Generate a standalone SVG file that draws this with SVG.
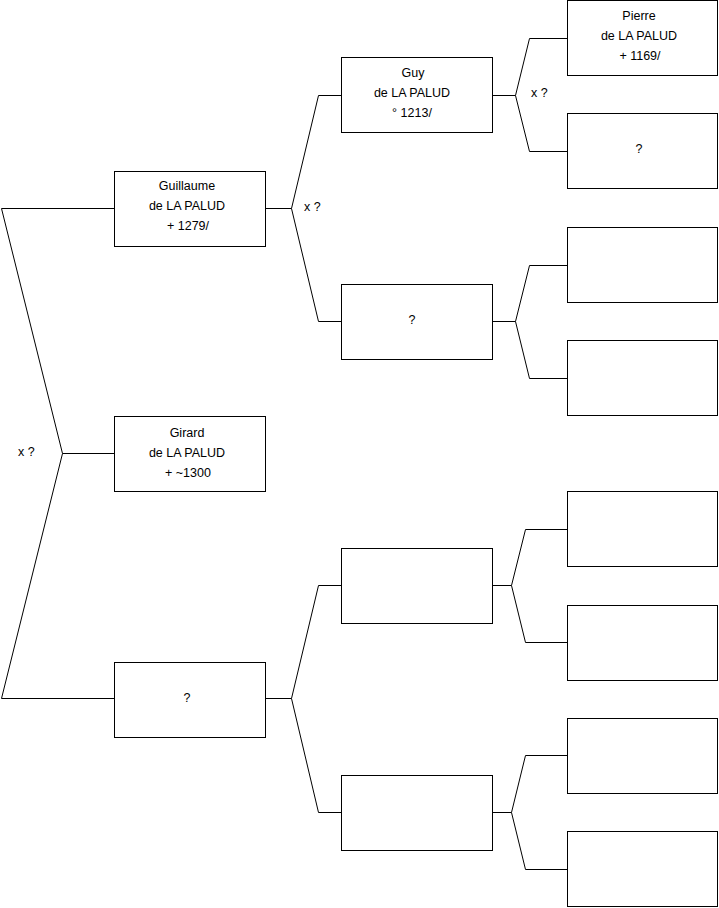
<svg xmlns="http://www.w3.org/2000/svg" width="719" height="908" viewBox="0 0 719 908">
<style>
.box{fill:#fff;stroke:#000;stroke-width:1}
.ln{fill:none;stroke:#000;stroke-width:1}
text{font-family:"Liberation Sans",Arial,sans-serif;font-size:12.5px;fill:#000}
.c{text-anchor:middle}
</style>
<rect width="719" height="908" fill="#fff"/>
<g id="connectors">
<polyline class="ln" points="114.5,208.5 1.5,208.5 62.5,453.5 1.5,698.5 114.5,698.5"/>
<line class="ln" x1="62.5" y1="453.5" x2="114.5" y2="453.5"/>
<polyline class="ln" points="265,208.5 291.5,208.5"/>
<polyline class="ln" points="341,95.5 318.5,95.5 291.5,208.5 318.5,321.5 341,321.5"/>
<polyline class="ln" points="265,698.5 291.5,698.5"/>
<polyline class="ln" points="341,585.5 318.5,585.5 291.5,698.5 318.5,812.5 341,812.5"/>
<polyline class="ln" points="492,95.5 515.5,95.5"/>
<polyline class="ln" points="567,38.5 529.5,38.5 515.5,95.5 529.5,151.5 567,151.5"/>
<polyline class="ln" points="492,321.5 515.5,321.5"/>
<polyline class="ln" points="567,265.5 529.5,265.5 515.5,321.5 529.5,378.5 567,378.5"/>
<polyline class="ln" points="492,585.5 511.5,585.5"/>
<polyline class="ln" points="567,529.5 525.5,529.5 511.5,585.5 525.5,642.5 567,642.5"/>
<polyline class="ln" points="492,812.5 511.5,812.5"/>
<polyline class="ln" points="567,755.5 525.5,755.5 511.5,812.5 525.5,869.5 567,869.5"/>
<text x="18" y="456">x ?</text>
<text x="304" y="211">x ?</text>
<text x="531" y="97">x ?</text>
</g>
<g id="guillaume"><rect class="box" x="114.5" y="171.5" width="151" height="75"/>
<text class="c" x="187" y="190">Guillaume</text><text class="c" x="187" y="210">de LA PALUD</text><text class="c" x="188" y="230">+ 1279/</text></g>
<g id="girard"><rect class="box" x="114.5" y="416.5" width="151" height="75"/>
<text class="c" x="187" y="437">Girard</text><text class="c" x="187" y="457">de LA PALUD</text><text class="c" x="188" y="477">+ ~1300</text></g>
<g id="unknown1"><rect class="box" x="114.5" y="662.5" width="151" height="75"/>
<text class="c" x="187" y="702">?</text></g>
<g id="guy"><rect class="box" x="341.5" y="57.5" width="151" height="75"/>
<text class="c" x="413" y="77">Guy</text><text class="c" x="412" y="97">de LA PALUD</text><text class="c" x="412" y="117">° 1213/</text></g>
<g id="unknown2"><rect class="box" x="341.5" y="284.5" width="151" height="75"/>
<text class="c" x="412" y="324">?</text></g>
<g id="blank2a"><rect class="box" x="341.5" y="548.5" width="151" height="75"/></g>
<g id="blank2b"><rect class="box" x="341.5" y="775.5" width="151" height="75"/></g>
<g id="pierre"><rect class="box" x="567.5" y="0.5" width="150" height="75"/>
<text class="c" x="639" y="20">Pierre</text><text class="c" x="639" y="40">de LA PALUD</text><text class="c" x="640" y="60">+ 1169/</text></g>
<g id="unknown3"><rect class="box" x="567.5" y="113.5" width="150" height="75"/>
<text class="c" x="639" y="153">?</text></g>
<g id="blank3a"><rect class="box" x="567.5" y="227.5" width="150" height="75"/></g>
<g id="blank3b"><rect class="box" x="567.5" y="340.5" width="150" height="75"/></g>
<g id="blank3c"><rect class="box" x="567.5" y="491.5" width="150" height="75"/></g>
<g id="blank3d"><rect class="box" x="567.5" y="605.5" width="150" height="75"/></g>
<g id="blank3e"><rect class="box" x="567.5" y="718.5" width="150" height="75"/></g>
<g id="blank3f"><rect class="box" x="567.5" y="831.5" width="150" height="75"/></g>
</svg>
